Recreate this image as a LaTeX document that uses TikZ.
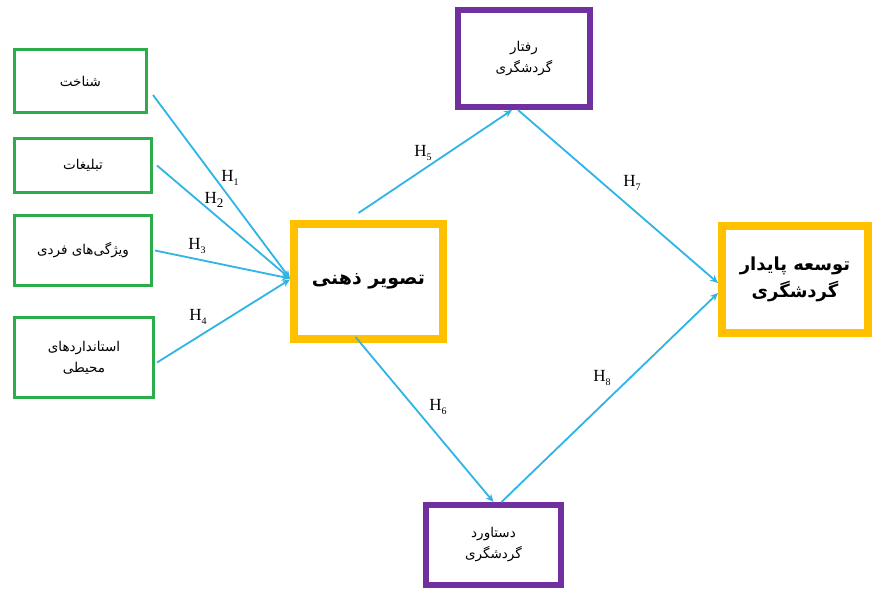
\documentclass[tikz,border=0pt]{standalone}
\usepackage{fontspec}
\setmainfont{Liberation Serif}
\newfontfamily\fa[Script=Arabic]{DejaVu Sans}
\TeXXeTstate=1
\usetikzlibrary{arrows.meta}
\definecolor{grn}{HTML}{2CAD4B}
\definecolor{org}{HTML}{FFC000}
\definecolor{prp}{HTML}{7030A0}
\definecolor{cyn}{HTML}{2FB4E6}
\newcommand\hyp[2][10]{H\raisebox{-0.45ex}{\fontsize{#1}{#1}\selectfont #2}}
\tikzset{
  gbox/.style={draw=grn, line width=3pt, inner sep=0pt, align=center, font=\fa\fontsize{13.5}{21}\selectfont},
  pbox/.style={draw=prp, line width=6pt, inner sep=0pt, align=center, font=\fa\fontsize{13.5}{21}\selectfont},
  obox/.style={draw=org, line width=8pt, inner sep=0pt, align=center, font=\fa\bfseries\fontsize{19}{28}\selectfont},
  rbox/.style={obox, font=\fa\bfseries\fontsize{18}{27}\selectfont},
  conn/.style={draw=cyn, line width=1.8pt, -{Stealth[length=8pt,width=7pt]}},
  hlab/.style={inner sep=0pt, font=\fontsize{17}{17}\selectfont}
}
\begin{document}
\begin{tikzpicture}[x=1pt,y=-1pt]
\useasboundingbox (0,0) rectangle (875,593);
\fill[white] (0,0) rectangle (875,593);

\node[gbox, minimum width=132pt, minimum height=63pt] (b1) at (80.5,81) {\beginR شناخت\endR};
\node[gbox, minimum width=137pt, minimum height=54pt] (b2) at (83,165.5) {\beginR تبلیغات\endR};
\node[gbox, minimum width=137pt, minimum height=70pt] (b3) at (83,250.5) {\beginR ویژگی‌های فردی\endR};
\node[gbox, minimum width=139pt, minimum height=80pt] (b4) at (84,357.5) {\beginR استانداردهای\endR\\\beginR محیطی\endR};

\node[obox, minimum width=149pt, minimum height=115pt] (ctr) at (368.5,281.5) {\beginR تصویر ذهنی\endR};
\node[pbox, minimum width=132pt, minimum height=97pt] (top) at (524,58.5) {\beginR رفتار\endR\\\beginR گردشگری\endR};
\node[pbox, minimum width=135pt, minimum height=80pt] (bot) at (493.5,545) {\beginR دستاورد\endR\\\beginR گردشگری\endR};
\node[rbox, minimum width=146pt, minimum height=107pt] (rgt) at (795,279.5) {\beginR توسعه پایدار\endR\\\beginR گردشگری\endR};

\draw[conn] ([xshift=5pt,yshift=-14pt]b1.east) -- ([yshift=3pt]ctr.west);
\draw[conn] ([xshift=4pt]b2.east) -- ([yshift=3pt]ctr.west);
\draw[conn] ([xshift=2pt]b3.east) -- ([yshift=3pt]ctr.west);
\draw[conn] ([xshift=2pt,yshift=-5pt]b4.east) -- ([yshift=2pt]ctr.west);

\draw[conn] ([xshift=-10pt,yshift=7pt]ctr.north) -- ([xshift=-12pt]top.south);
\draw[conn] ([xshift=-6pt]top.south) -- ([yshift=-3.5pt]rgt.west);
\draw[conn] ([xshift=-13pt,yshift=6pt]ctr.south) -- (bot.north);
\draw[conn] ([xshift=8pt]bot.north) -- ([yshift=-13.5pt]rgt.west);

\node[hlab] (h1) at (230,178) {\hyp{1}};
\node[hlab] (h2) at (214,200) {\hyp[13]{2}};
\node[hlab] (h3) at (197,246) {\hyp{3}};
\node[hlab] (h4) at (198,317) {\hyp{4}};
\node[hlab] (h5) at (423,153) {\hyp{5}};
\node[hlab] (h7) at (632,183) {\hyp{7}};
\node[hlab] (h6) at (438,407) {\hyp{6}};
\node[hlab] (h8) at (602,378) {\hyp{8}};
\end{tikzpicture}
\end{document}
